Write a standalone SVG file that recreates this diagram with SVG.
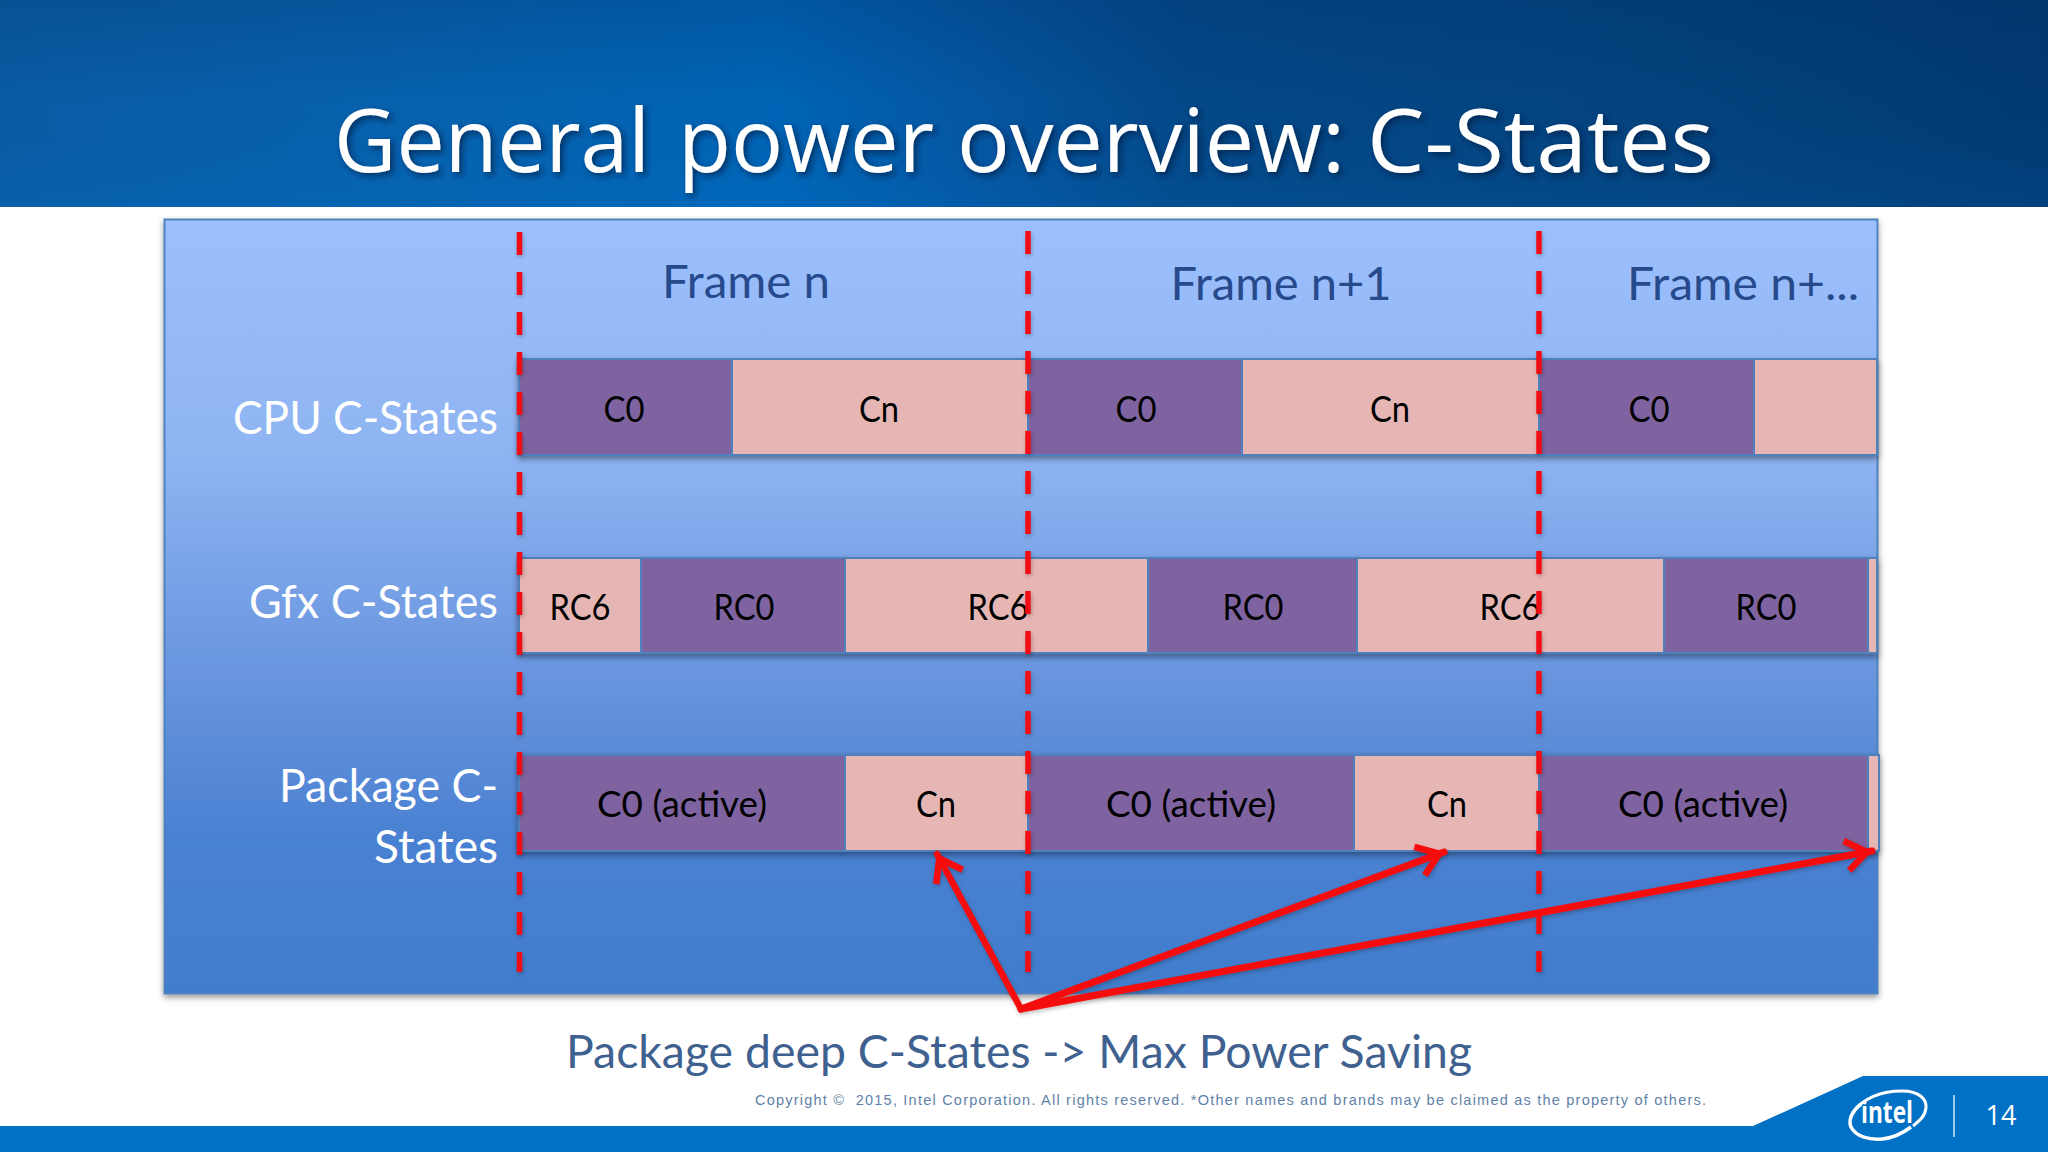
<svg xmlns="http://www.w3.org/2000/svg" width="2048" height="1152" viewBox="0 0 2048 1152">
<style>
.lb{font-family:"Lato","Open Sans",sans-serif}
.st{font-family:"Lato","Open Sans",sans-serif;font-size:37px;fill:#000;text-anchor:middle}
.row{font-family:"Lato","Open Sans",sans-serif;font-size:46px;fill:#fff;text-anchor:end}
.fr{font-family:"Lato","Open Sans",sans-serif;font-size:47px;fill:#264a8c;text-anchor:middle}
.p{fill:#7f63a1;stroke:#4f81bd;stroke-width:2}
.k{fill:#e6b6b5;stroke:#4f81bd;stroke-width:2}
.dash{stroke:#f00a14;stroke-width:5.500;stroke-dasharray:23 17;fill:none}
.arr{stroke:#f50a0a;fill:none;stroke-linecap:round}
</style>
<defs>
<linearGradient id="hd" x1="0" y1="0" x2="1" y2="0">
<stop offset="0" stop-color="#0a5fa8"/><stop offset=".2" stop-color="#0765b2"/><stop offset=".38" stop-color="#0068bb"/><stop offset=".48" stop-color="#0558a4"/><stop offset=".58" stop-color="#034a8a"/><stop offset=".8" stop-color="#03447f"/><stop offset="1" stop-color="#023b74"/>
</linearGradient>
<linearGradient id="hd2" x1="0" y1="0" x2="0" y2="1">
<stop offset="0" stop-color="#002a60" stop-opacity=".28"/><stop offset=".5" stop-color="#002a60" stop-opacity=".06"/><stop offset="1" stop-color="#0068b8" stop-opacity=".14"/>
</linearGradient>
<linearGradient id="pn" x1="0" y1="0" x2="0" y2="1">
<stop offset="0" stop-color="#9cc0fd"/><stop offset=".3" stop-color="#8fb4f2"/><stop offset=".62" stop-color="#6492dc"/><stop offset=".8" stop-color="#4a81d2"/><stop offset="1" stop-color="#417dcc"/>
</linearGradient>
<filter id="sh" x="-5%" y="-5%" width="110%" height="115%"><feDropShadow dx="0" dy="3" stdDeviation="3" flood-color="#000" flood-opacity=".4"/></filter>
<filter id="cs" x="-2%" y="-2%" width="104%" height="104%"><feDropShadow dx="1" dy="2" stdDeviation="2" flood-color="#000" flood-opacity=".25"/></filter>
<filter id="ts" x="-5%" y="-20%" width="110%" height="150%"><feDropShadow dx="3" dy="3" stdDeviation="3" flood-color="#001a40" flood-opacity=".7"/></filter>
<marker id="ah" markerUnits="userSpaceOnUse" markerWidth="44" markerHeight="44" refX="35" refY="22" orient="auto">
<path d="M9 7L30 22L9 37" fill="none" stroke="#f50a0a" stroke-width="6.500"/>
</marker>
</defs>
<rect width="2048" height="1152" fill="#fff"/>
<g id="header">
<rect width="2048" height="207" fill="url(#hd)"/>
<rect width="2048" height="207" fill="url(#hd2)"/>
<text y="172" filter="url(#ts)" font-size="88" fill="#fff" style="font-family:'Open Sans',sans-serif" lengthAdjust="spacingAndGlyphs"><tspan x="334" textLength="316" lengthAdjust="spacingAndGlyphs">General</tspan> <tspan x="678" textLength="256" lengthAdjust="spacingAndGlyphs">power</tspan> <tspan x="957" textLength="388" lengthAdjust="spacingAndGlyphs">overview:</tspan> <tspan x="1367" textLength="347" lengthAdjust="spacingAndGlyphs">C-States</tspan></text>
</g>
<g id="panel">
<rect x="164.500" y="219.500" width="1713" height="774" fill="url(#pn)" stroke="#4f81bd" stroke-width="2" filter="url(#sh)"/>
<text x="498" y="434" class="row" textLength="265" lengthAdjust="spacingAndGlyphs">CPU C-States</text>
<text x="498" y="618" class="row" textLength="249" lengthAdjust="spacingAndGlyphs">Gfx C-States</text>
<text x="498" y="802" class="row" textLength="219" lengthAdjust="spacingAndGlyphs">Package C-</text>
<text x="498" y="863" class="row" textLength="124" lengthAdjust="spacingAndGlyphs">States</text>
<text x="746" y="298" class="fr" textLength="168" lengthAdjust="spacingAndGlyphs">Frame n</text>
<text x="1281" y="300" class="fr" textLength="221" lengthAdjust="spacingAndGlyphs">Frame n+1</text>
<text x="1743" y="300" class="fr" textLength="232" lengthAdjust="spacingAndGlyphs">Frame n+...</text>
</g>
<g id="cpu-row" filter="url(#sh)">
<rect x="519" y="359" width="213" height="96" class="p"/><rect x="732" y="359" width="296" height="96" class="k"/>
<rect x="1028" y="359" width="214" height="96" class="p"/><rect x="1242" y="359" width="297" height="96" class="k"/>
<rect x="1539" y="359" width="215" height="96" class="p"/><rect x="1754" y="359" width="123" height="96" class="k"/>
</g>
<g id="cpu-labels">
<text x="624" y="422" class="st" textLength="41" lengthAdjust="spacingAndGlyphs">C0</text><text x="879" y="422" class="st" textLength="40" lengthAdjust="spacingAndGlyphs">Cn</text><text x="1136" y="422" class="st" textLength="41" lengthAdjust="spacingAndGlyphs">C0</text><text x="1390" y="422" class="st" textLength="40" lengthAdjust="spacingAndGlyphs">Cn</text><text x="1649" y="422" class="st" textLength="41" lengthAdjust="spacingAndGlyphs">C0</text>
</g>
<g id="gfx-row" filter="url(#sh)">
<rect x="519" y="558" width="122" height="95" class="k"/><rect x="641" y="558" width="204" height="95" class="p"/>
<rect x="845" y="558" width="303" height="95" class="k"/><rect x="1148" y="558" width="209" height="95" class="p"/>
<rect x="1357" y="558" width="307" height="95" class="k"/><rect x="1664" y="558" width="204" height="95" class="p"/>
<rect x="1868" y="558" width="9" height="95" class="k"/>
</g>
<g id="gfx-labels">
<text x="580" y="620" class="st" textLength="61" lengthAdjust="spacingAndGlyphs">RC6</text><text x="744" y="620" class="st" textLength="61" lengthAdjust="spacingAndGlyphs">RC0</text><text x="998" y="620" class="st" textLength="61" lengthAdjust="spacingAndGlyphs">RC6</text><text x="1253" y="620" class="st" textLength="61" lengthAdjust="spacingAndGlyphs">RC0</text><text x="1510" y="620" class="st" textLength="61" lengthAdjust="spacingAndGlyphs">RC6</text><text x="1766" y="620" class="st" textLength="61" lengthAdjust="spacingAndGlyphs">RC0</text>
</g>
<g id="pkg-row" filter="url(#sh)">
<rect x="519" y="755" width="326" height="96" class="p"/><rect x="845" y="755" width="183" height="96" class="k"/>
<rect x="1028" y="755" width="326" height="96" class="p"/><rect x="1354" y="755" width="185" height="96" class="k"/>
<rect x="1539" y="755" width="329" height="96" class="p"/><rect x="1868" y="755" width="11" height="96" class="k"/>
</g>
<g id="pkg-labels">
<text x="682" y="817" class="st" textLength="170" lengthAdjust="spacingAndGlyphs">C0 (active)</text><text x="936" y="817" class="st" textLength="40" lengthAdjust="spacingAndGlyphs">Cn</text><text x="1191" y="817" class="st" textLength="170" lengthAdjust="spacingAndGlyphs">C0 (active)</text><text x="1447" y="817" class="st" textLength="40" lengthAdjust="spacingAndGlyphs">Cn</text><text x="1703" y="817" class="st" textLength="170" lengthAdjust="spacingAndGlyphs">C0 (active)</text>
</g>
<g id="connectors" filter="url(#cs)">
<line x1="519.500" y1="232" x2="519.500" y2="972" class="dash"/>
<line x1="1028" y1="231" x2="1028" y2="972" class="dash"/>
<line x1="1539" y1="231" x2="1539" y2="972" class="dash"/>
<line x1="1021" y1="1009" x2="937" y2="854" class="arr" stroke-width="6.500" marker-end="url(#ah)"/>
<line x1="1021" y1="1009" x2="1444" y2="852" class="arr" stroke-width="7" marker-end="url(#ah)"/>
<line x1="1021" y1="1009" x2="1872" y2="851" class="arr" stroke-width="7" marker-end="url(#ah)"/>
</g>
<g id="footer">
<text x="1019" y="1068" class="lb" font-size="46" fill="#3f618f" text-anchor="middle" textLength="906" lengthAdjust="spacingAndGlyphs">Package deep C-States -&gt; Max Power Saving</text>
<text x="755" y="1105" xml:space="preserve" font-family="Liberation Sans,sans-serif" font-size="14.500" fill="#5f82a8" textLength="951">Copyright ©  2015, Intel Corporation. All rights reserved. *Other names and brands may be claimed as the property of others.</text>
<path d="M0 1126H1753L1863 1076H2048V1152H0Z" fill="#0071c5"/>
<g id="logo" fill="none" stroke="#fff">
<path d="M1853 1113C1862 1098 1882 1091 1902 1091C1920 1091 1927 1100 1926 1108C1925 1117 1918 1122 1913 1126" stroke-width="3"/>
<path d="M1861 1104C1852 1111 1848 1120 1851 1127C1856 1137 1870 1140 1882 1139C1893 1138 1903 1133 1911 1127" stroke-width="3.500"/>
<text x="1887" y="1123" font-family="Open Sans,sans-serif" font-size="30" font-weight="700" fill="#fff" stroke="none" text-anchor="middle" textLength="52" lengthAdjust="spacingAndGlyphs">intel</text>
</g>
<line x1="1954" y1="1095" x2="1954" y2="1137" stroke="#cfe4f5" stroke-width="1.500"/>
<text x="2001" y="1125" font-family="Open Sans,sans-serif" font-size="27" fill="#fff" text-anchor="middle">14</text>
</g>
</svg>
